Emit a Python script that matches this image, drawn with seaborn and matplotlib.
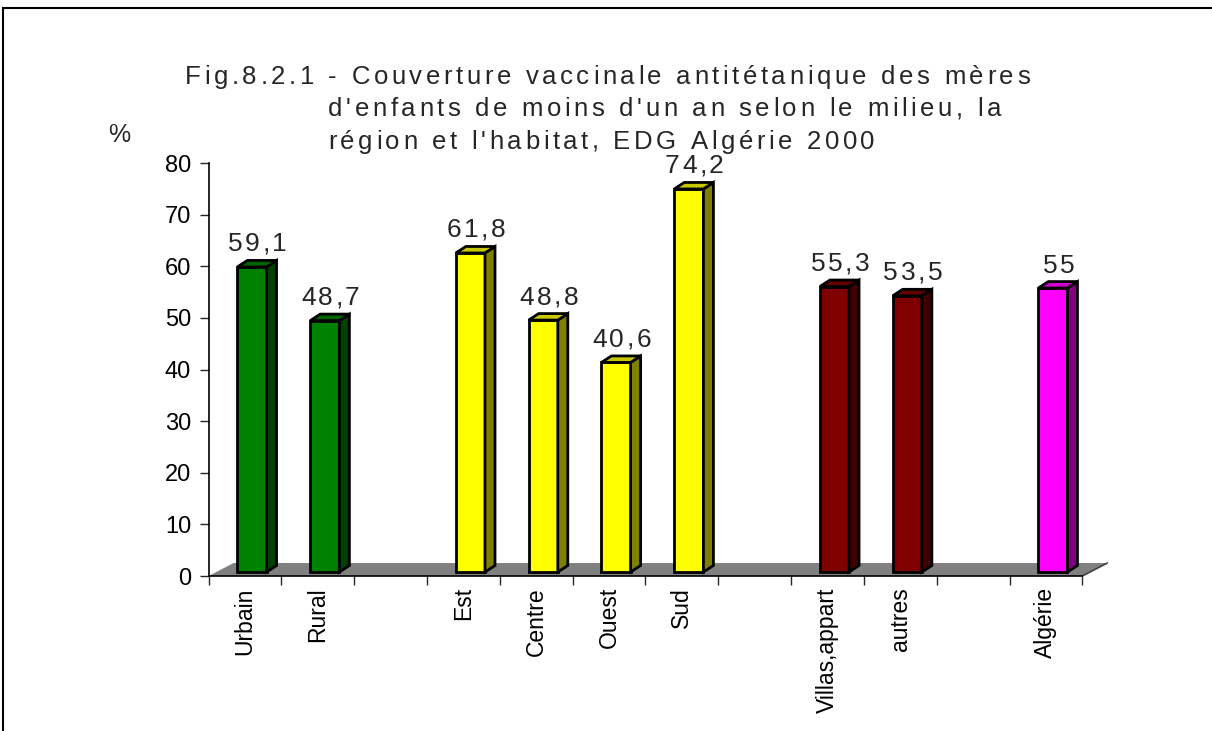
import pandas as pd
import matplotlib
matplotlib.use("Agg")
import matplotlib.pyplot as plt
import seaborn as sns
from matplotlib.patches import Polygon, Rectangle
from matplotlib.font_manager import FontProperties, findfont, get_font

# Data
categories = ["Urbain", "Rural", "Est", "Centre", "Ouest", "Sud",
              "Villas,appart", "autres", "Algérie"]
values = [59.1, 48.7, 61.8, 48.8, 40.6, 74.2, 55.3, 53.5, 55.0]
value_labels = ["59,1", "48,7", "61,8", "48,8", "40,6", "74,2", "55,3", "53,5", "55"]
# slot order with empty slots between the groups
slot_order = ["Urbain", "Rural", " ", "Est", "Centre", "Ouest", "Sud", "  ",
              "Villas,appart", "autres", "   ", "Algérie"]
title_lines = ["Fig.8.2.1 - Couverture vaccinale antitétanique des mères",
               "d'enfants de moins d'un an selon le milieu, la",
               "région et l'habitat, EDG Algérie 2000"]

front_colors = {"Urbain": "#008000", "Rural": "#008000",
                "Est": "#FFFF00", "Centre": "#FFFF00", "Ouest": "#FFFF00", "Sud": "#FFFF00",
                "Villas,appart": "#800000", "autres": "#800000",
                "Algérie": "#FF00FF"}
side_colors = {"#008000": "#004000", "#FFFF00": "#808000",
               "#800000": "#400000", "#FF00FF": "#800080"}
top_colors = {"#008000": "#006400", "#FFFF00": "#C8C800",
              "#800000": "#600000", "#FF00FF": "#CC00CC"}

df = pd.DataFrame({"cat": categories, "val": values})

sns.set_style("white")
plt.rcParams["font.family"] = ["Liberation Sans", "DejaVu Sans"]

W, H = 1212, 731
fig = plt.figure(figsize=(W / 100, H / 100), dpi=100)
ax = fig.add_axes([0.1721, 0.2120, 0.7209, 0.5650])

sns.barplot(data=df, x="cat", y="val", hue="cat", order=slot_order,
            palette=front_colors, saturation=1, width=0.4, dodge=False, legend=False,
            edgecolor="black", linewidth=2, errorbar=None, ax=ax, zorder=3)

ax.set_xlim(-0.5, 11.5)
ax.set_ylim(0, 80)

# pixel -> data conversions (slot = 72.8 px, 10 units = 51.6 px)
px_x = 1 / 72.8
px_y = 80 / 413.0

# floor of the 3D plot
fdx, fdy = 25 * px_x, 13 * px_y
floor = Polygon([(-0.5, 0), (11.5, 0), (11.5 + fdx, fdy), (-0.5 + fdx, fdy)],
                closed=True, facecolor="#808080", edgecolor="none",
                clip_on=False, zorder=1)
ax.add_patch(floor)
ax.plot([11.5, 11.5 + fdx], [0, fdy], color="#404040", lw=1.2, clip_on=False, zorder=1.5)

# bars sit in the middle of the floor depth
bx, by = 7 * px_x, 4 * px_y
ddx, ddy = 10 * px_x, 6.5 * px_y

bars = [p for p in ax.patches if isinstance(p, Rectangle) and p.get_height() > 0]
for p in bars:
    w = p.get_width()
    h = p.get_height()
    slot = int(round(p.get_x() + w / 2))
    fc = front_colors[slot_order[slot]]
    x0 = p.get_x() + bx
    p.set_x(x0)
    p.set_y(by)
    x1 = x0 + w
    top = by + h
    side = Polygon([(x1, by), (x1 + ddx, by + ddy), (x1 + ddx, top + ddy), (x1, top)],
                   closed=True, facecolor=side_colors[fc], edgecolor="black",
                   linewidth=2, zorder=3, joinstyle="miter")
    lid = Polygon([(x0, top), (x1, top), (x1 + ddx, top + ddy), (x0 + ddx, top + ddy)],
                  closed=True, facecolor=top_colors[fc], edgecolor="black",
                  linewidth=2, zorder=3, joinstyle="miter")
    ax.add_patch(side)
    ax.add_patch(lid)

# letter-spaced text, the original uses wide tracking
font = get_font(findfont(FontProperties(family="Liberation Sans")))


def spaced_text(x_px, y_px, s, size, track, ha="left"):
    # x_px, y_px in pixels from the bottom-left of the figure, y at baseline
    font.set_size(size, 100)
    advs = []
    for ch in s:
        g = font.load_char(ord(ch))
        advs.append(g.linearHoriAdvance / 65536)
    total = sum(advs) + track * (len(s) - 1)
    x = x_px - total / 2 if ha == "center" else x_px
    for ch, a in zip(s, advs):
        if ch != " ":
            fig.text(x / W, y_px / H, ch, ha="left", va="baseline", fontsize=size)
        x += a + track


# value labels
for cat, val, lab in zip(categories, values, value_labels):
    xi = slot_order.index(cat)
    top_back = val + by + ddy
    cx, cy = ax.transData.transform((xi + bx + ddx / 2 + 0.5 * px_x, top_back))
    spaced_text(cx, cy + 9, lab, 19, 2.5, ha="center")

# axes styling
for s in ["top", "right"]:
    ax.spines[s].set_visible(False)
ax.spines["left"].set_linewidth(1.2)
ax.spines["bottom"].set_linewidth(1.2)
ax.spines["left"].set_color("black")
ax.spines["bottom"].set_color("black")

ax.set_yticks(range(0, 81, 10))
ax.tick_params(axis="y", direction="out", length=6.5, width=1, pad=6,
               labelsize=17, left=True, labelcolor="black")
ax.set_xticks([i - 0.5 for i in range(13)], minor=True)
ax.tick_params(axis="x", which="minor", direction="out", length=6.5, width=1, bottom=True)
ax.tick_params(axis="x", which="major", length=0, pad=8, labelsize=16.5,
               labelrotation=90, labelcolor="black")
ax.set_xlabel("")
ax.set_ylabel("")

# title (hanging indent) and unit label
spaced_text(185, H - 84, title_lines[0], 18.5, 3.6)
spaced_text(328, H - 116, title_lines[1], 18.5, 3.6)
spaced_text(328, H - 149, title_lines[2], 18.5, 3.6)
fig.text(108 / W, 1 - 135 / H, "%", ha="left", va="center", fontsize=18)

# outer frame
fig.patches.append(Rectangle((3 / W, -0.05), 1.1, 1 - 8 / H + 0.05,
                             transform=fig.transFigure, fill=False,
                             edgecolor="black", linewidth=1.5))

fig.savefig("out.png", dpi=100)
